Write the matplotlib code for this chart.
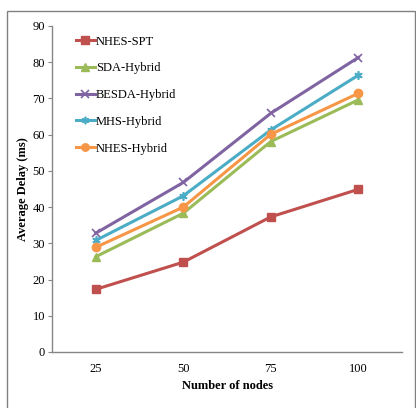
import matplotlib
matplotlib.use("Agg")
import matplotlib.pyplot as plt
from matplotlib.patches import Rectangle

# data
nodes = ["25", "50", "75", "100"]
nhes_spt = [17.3, 24.8, 37.3, 44.9]
sda_hybrid = [26.3, 38.3, 58.1, 69.6]
besda_hybrid = [32.8, 46.8, 65.9, 81.3]
mhs_hybrid = [30.8, 43.1, 61.3, 76.4]
nhes_hybrid = [28.9, 40.0, 60.1, 71.4]

series = [
    ("NHES-SPT", nhes_spt, "#C0504D", "s"),
    ("SDA-Hybrid", sda_hybrid, "#9BBB59", "^"),
    ("BESDA-Hybrid", besda_hybrid, "#8064A2", "x"),
    ("MHS-Hybrid", mhs_hybrid, "#4BACC6", (6, 2, 0)),
    ("NHES-Hybrid", nhes_hybrid, "#F79646", "o"),
]

plt.rcParams["font.family"] = ["Liberation Serif", "DejaVu Serif"]

fig = plt.figure(figsize=(4.16, 4.08), dpi=100)
ax = fig.add_axes([52 / 416, 1 - 352 / 408, 350 / 416, 326 / 408])

xs = [i + 0.5 for i in range(len(nodes))]
for name, vals, color, marker in series:
    ax.plot(xs, vals, color=color, lw=2.2, marker=marker, ms=6,
            mew=1.2 if marker in ("x",) or isinstance(marker, tuple) else 1,
            label=name)

ax.set_xlim(0, 4)
ax.set_ylim(0, 90)
ax.set_yticks(range(0, 91, 10))
ax.set_xticks(xs)
ax.set_xticklabels(nodes)
ax.tick_params(axis="x", length=0, pad=8, labelsize=9)
ax.tick_params(axis="y", length=3, color="#868686", labelsize=9, pad=2)
for s in ("top", "right"):
    ax.spines[s].set_visible(False)
for s in ("left", "bottom"):
    ax.spines[s].set_color("#868686")
    ax.spines[s].set_linewidth(1.0)

ax.set_xlabel("Number of nodes", fontweight="bold", fontsize=9)
ax.set_ylabel("Average Delay (ms)", fontweight="bold", fontsize=9)
ax.xaxis.set_label_coords(0.5, -0.085)
ax.yaxis.set_label_coords(-0.066, 0.5)

ax.legend(loc="upper left", bbox_to_anchor=(0.036, 1.005), frameon=False,
          fontsize=9, handlelength=1.5, handletextpad=0.1, labelspacing=1.18,
          markerscale=0.9)

fig.patches.append(Rectangle((7 / 416, -0.01), 408 / 416, 1 - 11 / 408 + 0.01,
                             transform=fig.transFigure, fill=False,
                             edgecolor="#808080", lw=1))

fig.savefig("out.png", dpi=100)
